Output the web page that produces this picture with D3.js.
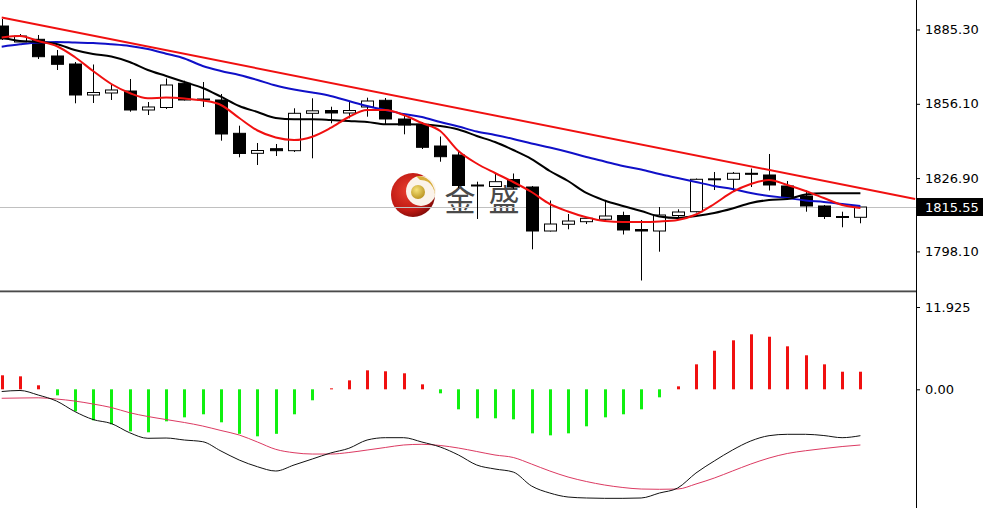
<!DOCTYPE html>
<html>
<head>
<meta charset="utf-8">
<script src="https://cdn.jsdelivr.net/npm/d3@7"></script>
<style>
  html, body { margin: 0; padding: 0; background: #fff; overflow: hidden; }
  svg { display: block; }
</style>
</head>
<body>
<svg id="chart" width="983" height="508"></svg>
<script>
// ---- Price bars (48 sessions) ----
const open  = [1886.67,1880.39,1881.45,1874.89,1871.74,1859.56,1860.35,1861.13,1853.67,1854.65,
               1864.16,1857.99,1857.60,1844.51,1836.65,1838.46,1837.68,1852.37,1853.47,1852.49,
               1854.85,1857.48,1850.13,1848.05,1839.52,1835.99,1824.20,1823.61,1826.36,1823.41,
               1806.12,1808.76,1809.78,1810.72,1812.21,1806.71,1806.12,1812.21,1813.71,1826.36,
               1826.44,1828.80,1828.13,1823.81,1819.88,1815.95,1811.82,1811.51];
const high  = [1889.42,1883.53,1883.14,1877.24,1872.53,1871.55,1863.49,1865.85,1856.81,1866.05,
               1865.18,1864.67,1859.96,1847.50,1840.70,1840.31,1854.34,1858.27,1854.96,1856.93,
               1858.50,1858.38,1851.90,1848.95,1843.26,1837.28,1825.50,1828.80,1828.72,1823.81,
               1818.11,1812.80,1811.62,1818.03,1813.71,1810.45,1815.55,1814.65,1826.75,1829.31,
               1829.31,1830.68,1836.38,1825.77,1822.04,1816.34,1813.71,1812.02];
const low   = [1881.17,1880.39,1873.71,1869.38,1856.30,1856.42,1857.60,1853.00,1851.70,1854.06,
               1857.40,1854.85,1841.61,1835.08,1832.06,1835.59,1837.17,1834.69,1848.44,1850.41,
               1851.04,1847.77,1844.12,1838.34,1833.35,1823.02,1810.84,1823.41,1822.63,1798.93,
               1805.93,1806.79,1808.87,1810.17,1804.75,1786.67,1797.99,1811.11,1813.39,1822.23,
               1821.84,1823.41,1822.04,1819.09,1813.71,1810.84,1807.58,1809.15];
const close = [1881.57,1882.74,1874.61,1871.62,1859.56,1860.54,1861.53,1853.67,1854.85,1863.49,
               1857.60,1857.68,1844.24,1836.58,1837.75,1837.68,1852.37,1853.35,1852.49,1853.47,
               1857.20,1850.13,1847.77,1839.01,1835.32,1824.00,1823.81,1825.50,1823.41,1806.12,
               1808.87,1810.05,1811.11,1812.02,1806.52,1806.12,1812.41,1813.59,1826.44,1826.63,
               1828.80,1828.52,1824.20,1819.48,1815.95,1811.82,1811.62,1815.55];

// ---- Moving averages ----
const maFast = [1882.16,1882.74,1880.78,1878.82,1874.49,1868.99,1863.88,1860.35,1858.27,1858.58,
                1858.19,1857.40,1855.63,1850.52,1845.61,1842.86,1841.88,1843.18,1846.60,1850.92,
                1853.67,1853.67,1851.70,1848.56,1845.42,1837.56,1832.65,1828.91,1825.38,1821.45,
                1816.73,1813.79,1811.51,1810.05,1809.66,1809.66,1809.86,1810.45,1812.61,1816.73,
                1821.45,1824.59,1826.16,1824.20,1821.84,1819.09,1816.34,1815.16];
const maMid  = [1882.16,1880.78,1880.39,1879.60,1877.24,1875.67,1874.69,1872.53,1869.39,1867.03,
                1864.67,1862.31,1858.89,1855.24,1852.88,1850.52,1850.01,1850.01,1849.74,1849.35,
                1848.95,1848.05,1848.05,1847.97,1847.38,1846.01,1843.45,1841.09,1837.95,1834.41,
                1829.70,1825.77,1821.06,1818.11,1815.95,1813.98,1811.82,1811.23,1812.02,1813.20,
                1814.96,1817.13,1818.30,1818.70,1820.47,1820.94,1820.94,1820.94];
const maSlow = [1878.54,1879.48,1880.19,1880.39,1880.19,1879.99,1879.48,1878.82,1877.64,1875.80,
                1873.90,1870.96,1868.99,1867.42,1865.46,1863.29,1861.72,1860.54,1859.17,1857.20,
                1855.24,1853.67,1852.10,1850.92,1848.95,1847.18,1845.22,1843.84,1842.27,1840.51,
                1838.93,1837.17,1835.20,1833.43,1831.66,1830.29,1828.52,1826.95,1825.38,1823.81,
                1822.63,1821.06,1819.88,1819.09,1818.11,1817.52,1816.73,1815.95];

// Resistance trendline: [bar index, price]
const trendline = [[0, 1890.00], [50, 1818.70]];
const lastPrice = 1815.55;
const priceTicks = [1885.30, 1856.10, 1826.90, 1798.10];

// ---- MACD pane ----
const macdHist = [2.03,1.88,0.58,-0.87,-3.19,-4.49,-5.07,-6.09,-6.23,-4.64,
                  -4.06,-3.62,-4.78,-6.45,-6.81,-6.45,-3.62,-1.59,0.14,1.30,
                  2.75,2.61,2.32,0.72,-0.58,-2.90,-4.20,-4.20,-4.35,-6.38,
                  -6.67,-6.38,-5.36,-4.06,-3.62,-2.90,-1.16,0.43,3.62,5.59,
                  7.10,7.97,7.62,6.23,4.93,3.62,2.55,2.55];
const macdMain = [-0.32,-0.17,-0.83,-1.70,-3.22,-4.38,-4.96,-6.29,-7.10,-7.06,
                  -7.35,-7.59,-8.94,-10.25,-11.22,-11.84,-10.97,-10.10,-9.23,-8.55,
                  -7.35,-7.01,-7.01,-7.64,-8.36,-9.52,-10.97,-11.55,-11.99,-14.01,
                  -15.03,-15.61,-15.75,-15.80,-15.80,-15.75,-15.03,-14.30,-12.13,-10.39,
                  -8.80,-7.49,-6.72,-6.52,-6.52,-6.70,-7.01,-6.72];
const macdSignal = [-1.30,-1.26,-1.23,-1.41,-1.70,-2.13,-2.64,-3.39,-3.94,-4.38,
                    -4.81,-5.32,-5.97,-6.62,-7.64,-8.70,-9.19,-9.38,-9.38,-9.16,
                    -8.80,-8.43,-8.07,-7.97,-8.14,-8.51,-9.01,-9.52,-9.88,-10.83,
                    -11.84,-12.71,-13.36,-13.87,-14.23,-14.45,-14.49,-14.45,-13.72,-12.86,
                    -11.84,-10.83,-9.96,-9.30,-8.90,-8.58,-8.29,-8.07];
const macdTicks = [11.925, 0.00];

// ---- Layout ----
const W = 983, H = 508;
const axisX = 916;
const mainTop = 0, mainBottom = 290;
const subTop = 293, subBottom = H;

const svg = d3.select("#chart");
const font = "'DejaVu Sans', Verdana, sans-serif";

const x = d3.scaleLinear().domain([0, 47]).range([1.7, 860.4]);
const y = d3.scaleLinear().domain([1782.94, 1896.89]).range([mainBottom, mainTop]);
const ym = d3.scaleLinear().domain([-17.2, 13.957]).range([subBottom, subTop]);

const defs = svg.append("defs");
defs.append("clipPath").attr("id", "clipMain")
  .append("rect").attr("x", 0).attr("y", mainTop).attr("width", axisX).attr("height", mainBottom - mainTop);
defs.append("clipPath").attr("id", "clipSub")
  .append("rect").attr("x", 0).attr("y", subTop).attr("width", axisX).attr("height", subBottom - subTop);

const grad = defs.append("radialGradient").attr("id", "logoRed")
  .attr("cx", "40%").attr("cy", "40%").attr("r", "65%");
grad.append("stop").attr("offset", "0%").attr("stop-color", "#e8402e");
grad.append("stop").attr("offset", "70%").attr("stop-color", "#c01a14");
grad.append("stop").attr("offset", "100%").attr("stop-color", "#7e0a08");
const gold = defs.append("radialGradient").attr("id", "logoGold")
  .attr("cx", "40%").attr("cy", "35%").attr("r", "70%");
gold.append("stop").attr("offset", "0%").attr("stop-color", "#f6e27a");
gold.append("stop").attr("offset", "100%").attr("stop-color", "#b8901c");

// ---- Main pane ----
const main = svg.append("g").attr("clip-path", "url(#clipMain)");

// watermark logo
const logo = main.append("g");
logo.append("circle").attr("cx", 413).attr("cy", 195).attr("r", 22).attr("fill", "url(#logoRed)");
logo.append("circle").attr("cx", 421).attr("cy", 191).attr("r", 15).attr("fill", "#fbf3ea");
logo.append("path")
  .attr("d", "M 416 176 A 17 17 0 0 1 432 202 A 14 14 0 0 0 420 180 Z")
  .attr("fill", "#d7ad3a");
logo.append("circle").attr("cx", 418).attr("cy", 192).attr("r", 7).attr("fill", "url(#logoGold)");
logo.selectAll("text.wm").data([["金", 460], ["盛", 504]]).join("text")
  .attr("class", "wm")
  .attr("x", d => d[1]).attr("y", 197)
  .attr("text-anchor", "middle").attr("dominant-baseline", "central")
  .attr("font-family", "'Noto Sans CJK SC', sans-serif")
  .attr("font-size", 31).attr("fill", "#4a4a4a")
  .text(d => d[0]);

// current price line
main.append("line")
  .attr("x1", 0).attr("x2", axisX)
  .attr("y1", Math.round(y(lastPrice)) + 0.5).attr("y2", Math.round(y(lastPrice)) + 0.5)
  .attr("stroke", "#c0c0c0").attr("stroke-width", 1);

// candles
const bars = d3.range(open.length).map(i => ({ i, o: open[i], h: high[i], l: low[i], c: close[i] }));
const cg = main.append("g");
const px = i => Math.round(x(i)) + 0.5;
cg.selectAll("line.wick").data(bars).join("line")
  .attr("x1", d => px(d.i)).attr("x2", d => px(d.i))
  .attr("y1", d => y(d.h)).attr("y2", d => y(d.l))
  .attr("stroke", "#000").attr("stroke-width", 1);
const bw = 12;
cg.selectAll("rect.body").data(bars).join("rect")
  .attr("x", d => px(d.i) - bw / 2)
  .attr("width", bw)
  .attr("y", d => Math.min(y(d.o), y(d.c)))
  .attr("height", d => Math.max(1, Math.abs(y(d.o) - y(d.c))))
  .attr("fill", d => d.c >= d.o ? "#fff" : "#000")
  .attr("stroke", "#000").attr("stroke-width", 1);

// moving averages
const maLine = d3.line().x((d, i) => x(i)).y(d => y(d)).curve(d3.curveMonotoneX);
main.append("path").attr("d", maLine(maSlow)).attr("fill", "none").attr("stroke", "#1010c8").attr("stroke-width", 2);
main.append("path").attr("d", maLine(maMid)).attr("fill", "none").attr("stroke", "#000").attr("stroke-width", 2);
main.append("path").attr("d", maLine(maFast)).attr("fill", "none").attr("stroke", "#f01010").attr("stroke-width", 2);

// trendline
main.append("line")
  .attr("x1", x(trendline[0][0])).attr("y1", y(trendline[0][1]))
  .attr("x2", x(trendline[1][0])).attr("y2", y(trendline[1][1]))
  .attr("stroke", "#f01010").attr("stroke-width", 2);

// ---- Pane separator ----
svg.append("rect").attr("x", 0).attr("y", 290).attr("width", axisX).attr("height", 1).attr("fill", "#9a9a9a");
svg.append("rect").attr("x", 0).attr("y", 291).attr("width", axisX).attr("height", 1).attr("fill", "#4a4a4a");
svg.append("rect").attr("x", 0).attr("y", 292).attr("width", axisX).attr("height", 1).attr("fill", "#c8c8c8");

// ---- MACD pane ----
const sub = svg.append("g").attr("clip-path", "url(#clipSub)");
sub.selectAll("rect.hist").data(macdHist).join("rect")
  .attr("x", (d, i) => Math.round(x(i)) - 1)
  .attr("width", 3)
  .attr("y", d => Math.min(ym(0), ym(d)))
  .attr("height", d => Math.max(1, Math.abs(ym(d) - ym(0))))
  .attr("fill", d => d >= 0 ? "#f01010" : "#10f010");
const mLine = d3.line().x((d, i) => x(i)).y(d => ym(d)).curve(d3.curveMonotoneX);
sub.append("path").attr("d", mLine(macdSignal)).attr("fill", "none").attr("stroke", "#dc3a62").attr("stroke-width", 1);
sub.append("path").attr("d", mLine(macdMain)).attr("fill", "none").attr("stroke", "#111").attr("stroke-width", 1);

// ---- Right axis ----
svg.append("line").attr("x1", axisX + 0.5).attr("x2", axisX + 0.5).attr("y1", 0).attr("y2", H)
  .attr("stroke", "#000").attr("stroke-width", 1);

const axisMain = d3.axisRight(y).tickValues(priceTicks).tickFormat(d3.format(".2f")).tickSize(4).tickPadding(5);
const gA = svg.append("g").attr("transform", `translate(${axisX},0)`).call(axisMain);
gA.select(".domain").remove();
gA.selectAll("text").attr("font-family", font).attr("font-size", 13).attr("fill", "#000");
gA.selectAll("line").attr("stroke", "#000");

const axisSub = d3.axisRight(ym).tickValues(macdTicks)
  .tickFormat(d => d === 0 ? "0.00" : d3.format(".3f")(d)).tickSize(4).tickPadding(5);
const gS = svg.append("g").attr("transform", `translate(${axisX},0)`).call(axisSub);
gS.select(".domain").remove();
gS.selectAll("text").attr("font-family", font).attr("font-size", 13).attr("fill", "#000");
gS.selectAll("line").attr("stroke", "#000");

// current price tag
const ly = y(lastPrice);
svg.append("rect").attr("x", axisX + 1).attr("y", ly - 9).attr("width", W - axisX - 1).attr("height", 18).attr("fill", "#000");
svg.append("text").attr("x", axisX + 9).attr("y", ly).attr("dominant-baseline", "central")
  .attr("font-family", font).attr("font-size", 13).attr("fill", "#fff").text(d3.format(".2f")(lastPrice));
</script>
</body>
</html>
